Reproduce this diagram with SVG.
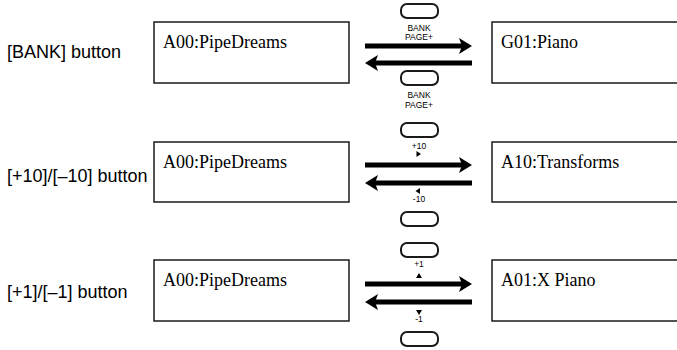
<svg xmlns="http://www.w3.org/2000/svg" width="677" height="350" viewBox="0 0 677 350">
<defs>
<style>
.lbl{font-family:"Liberation Sans",Arial,sans-serif;font-size:18px;fill:#000}
.box{fill:#fff;stroke:#1a1a1a;stroke-width:1.5}
.bt{font-family:"Liberation Serif","Times New Roman",serif;font-size:18px;fill:#000}
.btn{fill:#fff;stroke:#1a1a1a;stroke-width:2}
.sm{font-family:"Liberation Sans",Arial,sans-serif;font-size:8.5px;fill:#000;text-anchor:middle}
.shaft{stroke:#000;stroke-width:5;fill:none}
.tri{fill:#000}
</style>
</defs>
<rect width="677" height="350" fill="#fff"/>

<text class="lbl" x="7" y="58">[BANK] button</text>
<text class="lbl" x="7" y="182">[+10]/[–10] button</text>
<text class="lbl" x="7" y="298">[+1]/[–1] button</text>

<g id="row1-left"><rect class="box" x="154" y="22" width="195" height="61"/><text class="bt" x="163" y="48">A00:PipeDreams</text></g>
<g id="row1-right"><rect class="box" x="492" y="22" width="198" height="61"/><text class="bt" x="501" y="48">G01:Piano</text></g>
<g id="row2-left"><rect class="box" x="154" y="142" width="195" height="60"/><text class="bt" x="163" y="168">A00:PipeDreams</text></g>
<g id="row2-right"><rect class="box" x="492" y="142" width="198" height="60"/><text class="bt" x="501" y="168">A10:Transforms</text></g>
<g id="row3-left"><rect class="box" x="154" y="260" width="195" height="61"/><text class="bt" x="163" y="286">A00:PipeDreams</text></g>
<g id="row3-right"><rect class="box" x="492" y="260" width="198" height="61"/><text class="bt" x="501" y="286">A01:X Piano</text></g>

<g id="buttons">
<rect class="btn" x="401" y="4" width="37" height="14" rx="6"/>
<text class="sm" x="419" y="31">BANK</text>
<text class="sm" x="419" y="40">PAGE+</text>
<rect class="btn" x="401" y="71" width="37" height="14" rx="6"/>
<text class="sm" x="419" y="98">BANK</text>
<text class="sm" x="419" y="108">PAGE+</text>

<rect class="btn" x="401" y="123" width="37" height="14" rx="6"/>
<text class="sm" x="419" y="149">+10</text>
<polygon class="tri" points="416.5,151 416.5,157 421,154"/>
<polygon class="tri" points="420,188 420,194 415.5,191"/>
<text class="sm" x="419" y="202">-10</text>
<rect class="btn" x="401" y="212" width="37" height="14" rx="6"/>

<rect class="btn" x="401" y="243" width="37" height="14" rx="6"/>
<text class="sm" x="419" y="267">+1</text>
<polygon class="tri" points="416,278 422,278 419,273"/>
<polygon class="tri" points="416,310 422,310 419,315"/>
<text class="sm" x="419" y="322">-1</text>
<rect class="btn" x="401" y="332" width="37" height="14" rx="6"/>
</g>

<g id="connectors">
<line class="shaft" x1="365" y1="46" x2="462" y2="46"/>
<polygon class="tri" points="472,46 459,38 462,46 459,54"/>
<line class="shaft" x1="375" y1="63" x2="472" y2="63"/>
<polygon class="tri" points="365,63 378,55 375,63 378,71"/>

<line class="shaft" x1="365" y1="165" x2="462" y2="165"/>
<polygon class="tri" points="472,165 459,157 462,165 459,173"/>
<line class="shaft" x1="375" y1="183" x2="472" y2="183"/>
<polygon class="tri" points="365,183 378,175 375,183 378,191"/>

<line class="shaft" x1="365" y1="284" x2="462" y2="284"/>
<polygon class="tri" points="472,284 459,276 462,284 459,292"/>
<line class="shaft" x1="375" y1="302" x2="472" y2="302"/>
<polygon class="tri" points="365,302 378,294 375,302 378,310"/>
</g>
</svg>
